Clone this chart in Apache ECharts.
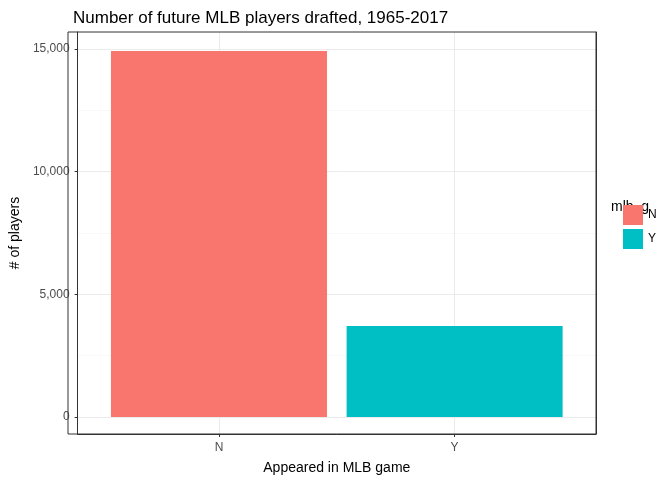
<!DOCTYPE html><html><head><meta charset="utf-8"><script src="https://cdn.jsdelivr.net/npm/echarts@6/dist/echarts.min.js"></script></head><body style="margin:0"><div id="c" style="width:672px;height:480px"></div><script>
const categories=['N','Y'];
const counts=[14920,3710];
const colors=['#F8766D','#00BFC4'];
const yTicks=[0,5000,10000,15000];
const yMinor=[2500,7500,12500];
const ch=echarts.init(document.getElementById('c'));
const F='Liberation Sans';
ch.setOption({
 animation:false,
 title:{text:'Number of future MLB players drafted, 1965-2017',left:68,top:5,textStyle:{fontFamily:F,fontSize:17,fontWeight:'normal',color:'#000'}},
 grid:{left:68,right:76,top:32,bottom:46},
 xAxis:{type:'value',min:0.4,max:2.6,name:'Appeared in MLB game',nameLocation:'middle',nameGap:27,nameTextStyle:{fontFamily:F,fontSize:14,color:'#000'},
  axisLine:{show:true,onZero:false,lineStyle:{color:'#333'}},axisTick:{show:true,customValues:[1,2],length:3,lineStyle:{color:'#333'}},
  axisLabel:{customValues:[1,2],formatter:v=>categories[Math.round(v)-1],fontFamily:F,fontSize:12,color:'#4d4d4d'},
  splitLine:{show:true,lineStyle:{color:'#ebebeb'}}},
 yAxis:[{type:'value',min:-693,max:15695,name:'# of players',nameLocation:'middle',nameGap:50,nameTextStyle:{fontFamily:F,fontSize:14,color:'#000'},
  axisLine:{show:true,lineStyle:{color:'#333'}},axisTick:{show:true,customValues:yTicks,length:3,lineStyle:{color:'#333'}},
  axisLabel:{customValues:yTicks,fontFamily:F,fontSize:12,color:'#4d4d4d'},
  splitLine:{show:true,lineStyle:{color:'#ebebeb'}}},
  {type:'value',min:-693,max:15695,position:'right',axisLine:{show:true,lineStyle:{color:'#333'}},axisTick:{show:false,customValues:yMinor},axisLabel:{show:false,customValues:yMinor},splitLine:{show:true,lineStyle:{color:'#f3f3f3',width:0.6}}}],
 legend:{orient:'vertical',left:618,top:200,itemWidth:20,itemHeight:20,itemGap:4,icon:'rect',data:categories,textStyle:{fontFamily:F,fontSize:12,color:'#000'}},
 graphic:[{type:'text',left:611,top:200,style:{text:'mlb_g',font:'14px Liberation Sans',fill:'#000'}},
  {type:'rect',shape:{x:68,y:32,width:528,height:402},style:{fill:'none',stroke:'#333',lineWidth:1},z:100}],
 series:categories.map((c,i)=>({name:c,type:'bar',barWidth:216,barGap:'-100%',itemStyle:{color:colors[i]},data:[[i+1,counts[i]]]}))
});
</script></body></html>
